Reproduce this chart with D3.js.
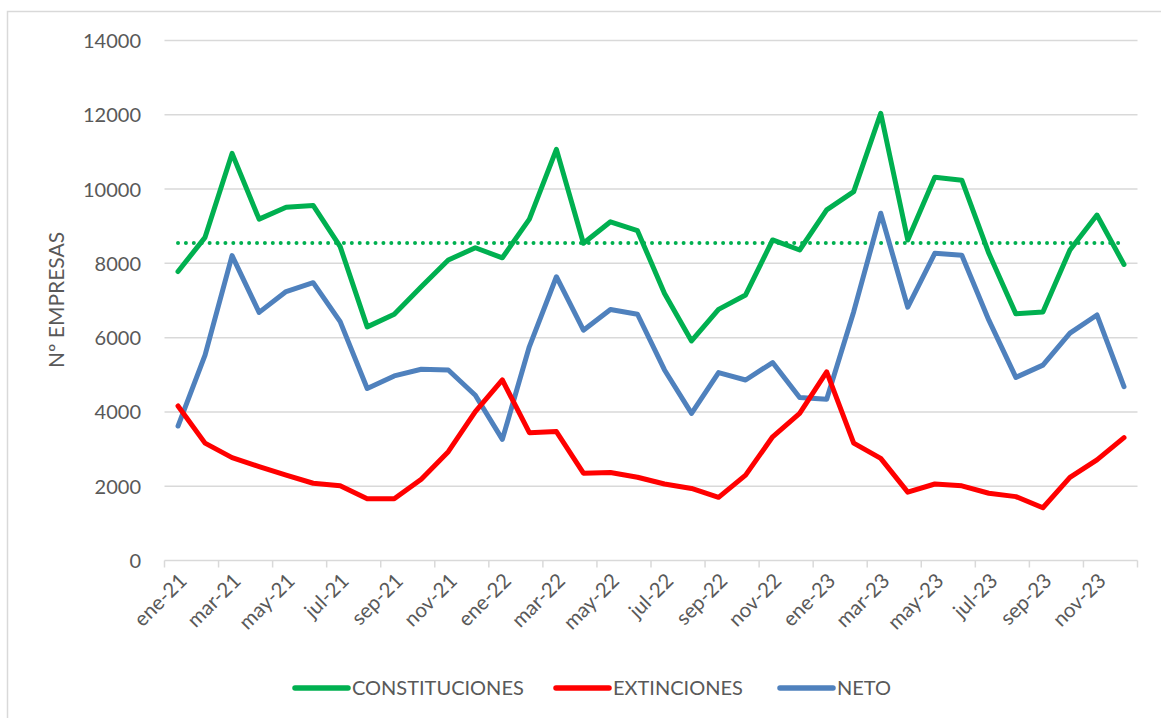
<!DOCTYPE html>
<html>
<head>
<meta charset="utf-8">
<script src="https://cdn.jsdelivr.net/npm/d3@7"></script>
<style>
  html, body { margin: 0; padding: 0; background: #fff; }
  svg { display: block; }
  text { font-family: Lato, "Open Sans", sans-serif; fill: #595959; }
</style>
</head>
<body>
<svg id="chart" width="1161" height="718"></svg>
<script>
const months = ["ene-21","feb-21","mar-21","abr-21","may-21","jun-21","jul-21","ago-21","sep-21","oct-21","nov-21","dic-21",
                "ene-22","feb-22","mar-22","abr-22","may-22","jun-22","jul-22","ago-22","sep-22","oct-22","nov-22","dic-22",
                "ene-23","feb-23","mar-23","abr-23","may-23","jun-23","jul-23","ago-23","sep-23","oct-23","nov-23","dic-23"];
const constituciones = [7780,8700,10960,9190,9510,9560,8450,6290,6630,7370,8090,8420,
                        8150,9190,11070,8540,9120,8880,7190,5910,6760,7150,8630,8360,
                        9440,9930,12040,8630,10320,10240,8270,6640,6690,8360,9300,7970];
const extinciones = [4160,3160,2770,2530,2300,2080,2010,1660,1660,2190,2930,4010,
                     4860,3440,3470,2350,2370,2240,2060,1940,1700,2300,3330,3960,
                     5080,3160,2750,1840,2060,2010,1810,1720,1420,2240,2710,3310];
const neto = [3620,5530,8210,6680,7240,7480,6430,4630,4970,5150,5130,4450,
              3260,5760,7640,6200,6760,6630,5130,3960,5060,4860,5330,4390,
              4340,6700,9350,6820,8270,8220,6470,4930,5260,6120,6610,4680];
const yTicks = [0,2000,4000,6000,8000,10000,12000,14000];
const seriesNames = ["CONSTITUCIONES","EXTINCIONES","NETO"];
const seriesColors = ["#00b050","#ff0000","#4f81bd"];
const yTitle = "Nº EMPRESAS";

const svg = d3.select("#chart");

// chart area border
svg.append("rect").attr("x", 7.5).attr("y", 11.5).attr("width", 1160).attr("height", 720)
  .attr("fill", "none").attr("stroke", "#d9d9d9").attr("stroke-width", 1.5);

const x = d3.scaleBand().domain(months).range([164.5, 1137.5]).padding(0);
const y = d3.scaleLinear().domain([0, 14000]).range([560.5, 40.5]);
const cx = d => x(d) + x.bandwidth() / 2;

// gridlines
svg.append("g").selectAll("line").data(yTicks.filter(t => t > 0)).join("line")
  .attr("x1", 164.5).attr("x2", 1137.5)
  .attr("y1", d => y(d)).attr("y2", d => y(d))
  .attr("stroke", "#d9d9d9").attr("stroke-width", 1.5);

// y axis labels
const yAxis = d3.axisLeft(y).tickValues(yTicks).tickSize(0).tickPadding(0).tickFormat(d3.format("d"));
const gy = svg.append("g").attr("transform", "translate(141,0)").call(yAxis);
gy.select(".domain").remove();
gy.selectAll("text").attr("font-size", "20px").attr("fill", "#595959")
  .style("font-family", "Lato, 'Open Sans', sans-serif").attr("dy", "0.35em");

// y title
svg.append("text").attr("transform", "translate(64,300) rotate(-90)")
  .attr("text-anchor", "middle").attr("font-size", "21px").text(yTitle);

// x axis
const xAxis = d3.axisBottom(x).tickSize(7).tickFormat("");
const gx = svg.append("g").attr("transform", "translate(0,560.5)").call(xAxis);
gx.select(".domain").attr("stroke", "#d9d9d9").attr("stroke-width", 1.5)
  .attr("d", "M164.5,0H1137.5");
gx.selectAll(".tick").remove();
// ticks every 2 categories at boundaries
const boundaries = months.filter((m, i) => i % 2 === 0).map(m => x(m)).concat([x.range()[1]]);
gx.selectAll("line.tk").data(boundaries).join("line").attr("class", "tk")
  .attr("x1", d => d).attr("x2", d => d).attr("y1", 0).attr("y2", 7)
  .attr("stroke", "#d9d9d9").attr("stroke-width", 1.5);
// labels
svg.append("g").selectAll("text").data(months.filter((m, i) => i % 2 === 0)).join("text")
  .attr("transform", d => `translate(${cx(d) + 5},${577}) rotate(-45)`)
  .attr("text-anchor", "end").attr("font-size", "20.5px").attr("dy", "0.35em")
  .text(d => d);

// average line
const avg = d3.mean(constituciones);
svg.append("line")
  .attr("x1", cx(months[0])).attr("x2", cx(months[months.length - 1]))
  .attr("y1", y(avg)).attr("y2", y(avg))
  .attr("stroke", seriesColors[0]).attr("stroke-width", 4)
  .attr("stroke-linecap", "round").attr("stroke-dasharray", "0 7.9");

// series lines
const line = d3.line().x((d, i) => cx(months[i])).y(d => y(d));
const allSeries = [constituciones, extinciones, neto];
[2, 1, 0].forEach(k => {
  svg.append("path").datum(allSeries[k])
    .attr("d", line).attr("fill", "none")
    .attr("stroke", seriesColors[k]).attr("stroke-width", 5)
    .attr("stroke-linejoin", "round").attr("stroke-linecap", "round");
});

// legend
const legendX = [295, 556, 780];
const lg = svg.append("g");
seriesNames.forEach((n, k) => {
  lg.append("line").attr("x1", legendX[k]).attr("x2", legendX[k] + 53)
    .attr("y1", 688).attr("y2", 688)
    .attr("stroke", seriesColors[k]).attr("stroke-width", 5.5).attr("stroke-linecap", "round");
  lg.append("text").attr("x", legendX[k] + 57).attr("y", 688).attr("dy", "0.35em")
    .attr("font-size", "20px").text(n);
});
</script>
</body>
</html>
